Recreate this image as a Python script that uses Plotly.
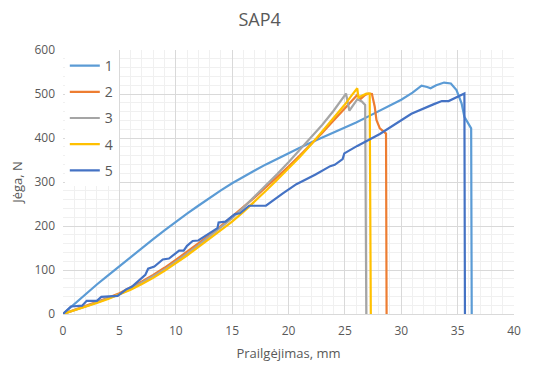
import plotly.graph_objects as go

# Series 1
x1 = [0, 1, 2, 3, 4, 5, 6, 7, 8, 9, 10, 11, 12, 13, 14, 15, 16, 17, 18, 19, 20, 21, 22, 23, 24, 25, 26, 27, 28, 29, 30, 31, 31.8, 32.3, 32.6, 33.1, 33.8, 34.4, 34.9, 35.35, 35.6, 36.2, 36.25]
y1 = [0, 23, 45, 67, 88, 109, 130, 150, 170, 190, 210, 228, 246, 264, 281, 297, 312, 326, 340, 353, 366, 378, 390, 401, 412, 423, 435, 448, 461, 474, 487, 503, 519, 516, 513, 520, 526, 524, 509, 479, 448, 422, 0]
# Series 2
x2 = [0, 1, 2, 3, 4, 5, 6, 7, 8, 9, 10, 11, 12, 13, 14, 15, 16, 17, 18, 19, 20, 21, 22, 23, 24, 25, 25.5, 26.1, 26.4, 26.8, 27.1, 27.4, 27.65, 27.8, 28.1, 28.65, 28.7]
y2 = [0, 9, 18, 27, 37, 47, 60, 74, 89, 105, 123, 141, 160, 179, 200, 221, 243, 265, 288, 311, 335, 360, 385, 412, 440, 467, 482, 498, 489, 498, 501, 500, 471, 441, 422, 410, 0]
# Series 3
x3 = [0, 1, 2, 3, 4, 5, 6, 7, 8, 9, 10, 11, 12, 13, 14, 15, 16, 17, 18, 19, 20, 21, 22, 23, 24, 24.6, 25.1, 25.4, 26.1, 26.5, 26.8, 26.9]
y3 = [0, 8, 17, 26, 35, 45, 57, 71, 86, 101, 118, 137, 156, 176, 197, 218, 242, 267, 292, 318, 345, 373, 401, 430, 462, 482, 501, 462, 488, 483, 475, 0]
# Series 4
x4 = [0, 1, 2, 3, 4, 5, 6, 7, 8, 9, 10, 11, 12, 13, 14, 15, 16, 17, 18, 19, 20, 21, 22, 23, 24, 25, 25.6, 26.1, 26.2, 26.9, 27.2, 27.3]
y4 = [0, 8, 16, 25, 34, 44, 55, 68, 82, 98, 115, 133, 152, 171, 190, 210, 232, 255, 280, 305, 330, 357, 385, 415, 445, 476, 497, 513, 492, 501, 501, 0]
# Series 5
x5 = [0, 0.7, 1.7, 2.1, 3.0, 3.4, 4.85, 5.6, 6.1, 7.3, 7.55, 8.1, 8.85, 9.4, 10.3, 10.7, 11.0, 11.5, 12.0, 13.0, 13.7, 13.8, 14.4, 15.25, 15.7, 16.5, 18.0, 19.5, 20.7, 22.4, 23.7, 24.1, 24.8, 24.95, 26.1, 28.1, 29.5, 30.9, 32.9, 33.6, 34.2, 35.6, 35.65]
y5 = [0, 17, 19, 30, 30, 39, 41, 56, 62, 89, 103, 108, 124, 126, 144, 144, 155, 166, 167, 183, 195, 208, 210, 227, 229, 246, 246, 274, 295, 317, 336, 339, 352, 365, 382, 409, 433, 455, 477, 484, 484, 501, 0]

names = ["1", "2", "3", "4", "5"]
colors = ["#5B9BD5", "#ED7D31", "#A5A5A5", "#FFC000", "#4472C4"]
xs = [x1, x2, x3, x4, x5]
ys = [y1, y2, y3, y4, y5]

x_ticks = [0, 5, 10, 15, 20, 25, 30, 35, 40]
y_ticks = [0, 100, 200, 300, 400, 500, 600]

fig = go.Figure()
for i in range(5):
    fig.add_trace(go.Scatter(x=xs[i], y=ys[i], mode="lines", name=names[i],
                             legendgroup=names[i],
                             line=dict(color=colors[i], width=2.2)))

font_fam = "Open Sans, Liberation Sans, sans-serif"
fig.update_layout(
    width=541, height=367,
    margin=dict(l=63, r=27, t=50, b=53),
    paper_bgcolor="white", plot_bgcolor="white",
    font=dict(family=font_fam, color="#595959", size=12),
    title=dict(text="SAP4", x=0.48, xanchor="center", y=0.945, yanchor="middle",
               font=dict(size=18, color="#595959")),
    legend=dict(x=0.004, y=1.0, xanchor="left", yanchor="top",
                bgcolor="white", font=dict(size=14, color="#595959"),
                tracegroupgap=5, itemwidth=30),
    showlegend=True,
)
fig.update_xaxes(range=[0, 40], tickvals=x_ticks, showgrid=True, gridcolor="#D9D9D9",
                 gridwidth=1, zeroline=False, showline=True, linecolor="#D9D9D9",
                 automargin=False,
                 ticks="", ticklabelstandoff=6, tickfont=dict(size=12, color="#595959"),
                 minor=dict(dtick=1, showgrid=True, gridcolor="#F0F0F0", gridwidth=1),
                 title=dict(text="Prailgėjimas, mm", font=dict(size=13, color="#595959"), standoff=10))
fig.update_yaxes(range=[0, 600], tickvals=y_ticks, showgrid=True, gridcolor="#D9D9D9",
                 gridwidth=1, zeroline=False, showline=False,
                 automargin=False,
                 ticks="", ticklabelstandoff=7, tickfont=dict(size=12, color="#595959"),
                 minor=dict(dtick=20, showgrid=True, gridcolor="#F0F0F0", gridwidth=1),
                 title=dict(text="Jėga, N", font=dict(size=13, color="#595959"), standoff=8))

fig.write_html("out.html")
